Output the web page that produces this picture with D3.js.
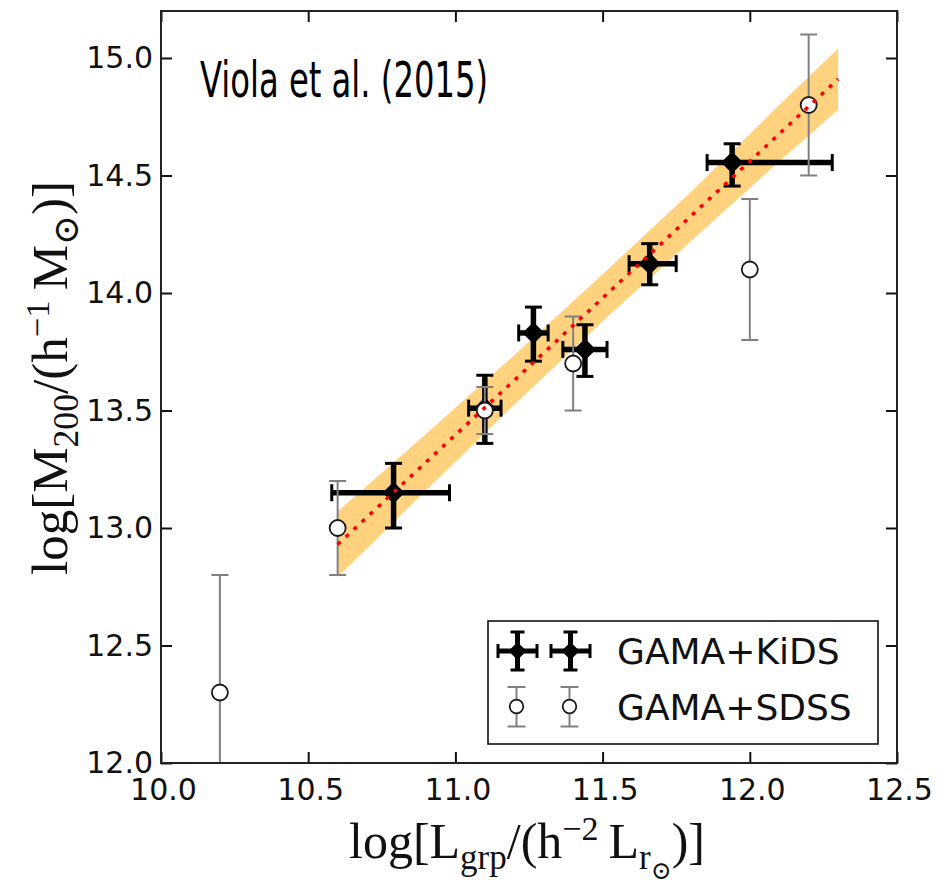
<!DOCTYPE html>
<html>
<head>
<meta charset="utf-8">
<script src="https://cdn.jsdelivr.net/npm/d3@7"></script>
<style>
  html, body { margin: 0; padding: 0; background: #fff; }
  svg { display: block; }
</style>
</head>
<body>
<svg id="chart" width="939" height="885"></svg>
<script>
// GAMA+KiDS weak-lensing halo masses versus group luminosity
const kidsL    = [10.79, 11.10, 11.265, 11.44, 11.66, 11.94];
const kidsM    = [13.15, 13.51, 13.83, 13.76, 14.125, 14.555];
const kidsLlo  = [0.21, 0.055, 0.05, 0.075, 0.07, 0.085];
const kidsLhi  = [0.19, 0.055, 0.05, 0.075, 0.09, 0.34];
const kidsMlo  = [0.15, 0.15, 0.12, 0.115, 0.09, 0.10];
const kidsMhi  = [0.125, 0.14, 0.11, 0.105, 0.085, 0.08];

// GAMA+SDSS comparison measurements
const sdssL    = [10.2, 10.6, 11.1, 11.4, 12.0, 12.2];
const sdssM    = [12.3, 13.0, 13.5, 13.7, 14.1, 14.8];
const sdssErr  = [0.5, 0.2, 0.1, 0.2, 0.3, 0.3];

// Power-law fit and its uncertainty band
const fitL     = [10.6, 12.3];
const fitM     = [12.93, 14.91];
const bandL    = [10.6, 10.9, 11.2, 11.5, 11.8, 12.1, 12.3];
const bandLo   = [12.79, 13.16, 13.525, 13.88, 14.22, 14.56, 14.78];
const bandHi   = [13.07, 13.40, 13.735, 14.08, 14.43, 14.80, 15.04];

const xTicks   = [10.0, 10.5, 11.0, 11.5, 12.0, 12.5];
const yTicks   = [12.0, 12.5, 13.0, 13.5, 14.0, 14.5, 15.0];
const seriesNames = ["GAMA+KiDS", "GAMA+SDSS"];
const annotation  = "Viola et al. (2015)";

const svg = d3.select("#chart");
const pLeft = 161, pRight = 897, pTop = 11, pBottom = 763;
const x = d3.scaleLinear().domain([10, 12.5]).range([pLeft, pRight]);
const y = d3.scaleLinear().domain([12, 15.2]).range([pBottom, pTop]);

svg.append("defs").append("clipPath").attr("id", "plotclip")
  .append("rect").attr("x", pLeft).attr("y", pTop)
  .attr("width", pRight - pLeft).attr("height", pBottom - pTop);

const plot = svg.append("g").attr("clip-path", "url(#plotclip)");

// uncertainty band
const band = bandL.map((l, i) => ({l, lo: bandLo[i], hi: bandHi[i]}));
plot.append("path").datum(band)
  .attr("d", d3.area().x(d => x(d.l)).y0(d => y(d.lo)).y1(d => y(d.hi)))
  .attr("fill", "#ffd280").attr("stroke", "none");

// KiDS error bars and markers
const kids = kidsL.map((l, i) => ({l, m: kidsM[i], llo: kidsLlo[i], lhi: kidsLhi[i], mlo: kidsMlo[i], mhi: kidsMhi[i]}));
function kidsMarker(g, cx, cy, x0, x1, y0, y1, cap, half, lw) {
  g.append("line").attr("x1", x0).attr("x2", x1).attr("y1", cy).attr("y2", cy)
    .attr("stroke", "#000").attr("stroke-width", lw);
  g.append("line").attr("x1", cx).attr("x2", cx).attr("y1", y0).attr("y2", y1)
    .attr("stroke", "#000").attr("stroke-width", lw);
  [x0, x1].forEach(xx => g.append("line").attr("x1", xx).attr("x2", xx)
    .attr("y1", cy - cap).attr("y2", cy + cap).attr("stroke", "#000").attr("stroke-width", 3));
  [y0, y1].forEach(yy => g.append("line").attr("y1", yy).attr("y2", yy)
    .attr("x1", cx - cap).attr("x2", cx + cap).attr("stroke", "#000").attr("stroke-width", 3));
  g.append("path").attr("d", `M${cx},${cy - half}L${cx + half},${cy}L${cx},${cy + half}L${cx - half},${cy}Z`)
    .attr("fill", "#000");
}
const kidsG = plot.append("g");
kids.forEach(d => {
  kidsMarker(kidsG, x(d.l), y(d.m), x(d.l - d.llo), x(d.l + d.lhi),
             y(d.m - d.mlo), y(d.m + d.mhi), 8.5, 11, 5.5);
});

// SDSS error bars and open circles
function sdssMarker(g, cx, cy, y0, y1, cap, r) {
  g.append("line").attr("x1", cx).attr("x2", cx).attr("y1", y0).attr("y2", y1)
    .attr("stroke", "#808080").attr("stroke-width", 2);
  [y0, y1].forEach(yy => g.append("line").attr("y1", yy).attr("y2", yy)
    .attr("x1", cx - cap).attr("x2", cx + cap).attr("stroke", "#808080").attr("stroke-width", 2));
  g.append("circle").attr("cx", cx).attr("cy", cy).attr("r", r)
    .attr("fill", "#fff").attr("stroke", "#1a1a1a").attr("stroke-width", 1.8);
}
const sdssG = plot.append("g");
sdssL.forEach((l, i) => {
  sdssMarker(sdssG, x(l), y(sdssM[i]), y(sdssM[i] - sdssErr[i]), y(sdssM[i] + sdssErr[i]), 8.5, 8);
});

// best-fit relation
plot.append("path").datum(fitL.map((l, i) => ({l, m: fitM[i]})))
  .attr("d", d3.line().x(d => x(d.l)).y(d => y(d.m)))
  .attr("fill", "none").attr("stroke", "#ff0000").attr("stroke-width", 3.5)
  .attr("stroke-dasharray", "4 7");

// axes: ticks point inward on all four sides
const tickFont = "'DejaVu Sans', sans-serif";
const gx = svg.append("g").attr("transform", `translate(0,${pBottom})`)
  .call(d3.axisBottom(x).tickValues(xTicks).tickFormat(d3.format(".1f")).tickSize(-11).tickPadding(0));
gx.selectAll("text").attr("y", 37).attr("dy", 0).attr("dx", 2)
  .style("font-family", tickFont).style("font-size", "30px").attr("fill", "#111");
const gy = svg.append("g").attr("transform", `translate(${pLeft},0)`)
  .call(d3.axisLeft(y).tickValues(yTicks).tickFormat(d3.format(".1f")).tickSize(-11).tickPadding(8));
gy.selectAll("text").attr("dy", "0.32em")
  .style("font-family", tickFont).style("font-size", "30px").attr("fill", "#111");
const gt = svg.append("g").attr("transform", `translate(0,${pTop})`)
  .call(d3.axisTop(x).tickValues(xTicks).tickFormat("").tickSize(-11));
const gr = svg.append("g").attr("transform", `translate(${pRight},0)`)
  .call(d3.axisRight(y).tickValues(yTicks).tickFormat("").tickSize(-11));
[gx, gy, gt, gr].forEach(g => {
  g.select(".domain").remove();
  g.selectAll(".tick line").attr("stroke", "#111").attr("stroke-width", 2);
});
svg.append("rect").attr("x", pLeft).attr("y", pTop)
  .attr("width", pRight - pLeft).attr("height", pBottom - pTop)
  .attr("fill", "none").attr("stroke", "#222").attr("stroke-width", 2);

// annotation
svg.append("text").attr("x", 200).attr("y", 97)
  .attr("textLength", 288).attr("lengthAdjust", "spacingAndGlyphs")
  .style("font-family", "'Liberation Sans Narrow', 'DejaVu Sans Condensed', 'Roboto', sans-serif")
  .style("font-size", "49px").attr("fill", "#000")
  .text(annotation);

// legend
const lg = svg.append("g");
lg.append("rect").attr("x", 488).attr("y", 621).attr("width", 390).attr("height", 123)
  .attr("fill", "#fff").attr("stroke", "#111").attr("stroke-width", 1.6);
[517.5, 570.5].forEach(cx => {
  kidsMarker(lg, cx, 651, cx - 19.5, cx + 19.5, 632, 670, 7, 9, 5);
  sdssMarker(lg, cx - 1, 706.5, 687, 726.5, 9, 6.8);
});
lg.selectAll("text.lab").data(seriesNames).join("text")
  .attr("class", "lab").attr("x", 617).attr("y", (d, i) => i === 0 ? 664 : 720)
  .style("font-family", tickFont).style("font-size", "36px").attr("fill", "#111")
  .text(d => d);

// axis titles with sub/superscripts
function mathLabel(g, segs, size) {
  const t = g.append("text").attr("text-anchor", "middle")
    .style("font-family", "'Liberation Serif', 'DejaVu Serif', serif")
    .style("font-size", size + "px").attr("fill", "#111");
  const shift = {0: 0, "-1": 0.22, "1": -0.36, "-2": 0.42};
  const scale = {0: 1, "-1": 0.7, "1": 0.68, "-2": 0.5};
  let cur = 0;
  segs.forEach(([txt, lvl]) => {
    const target = shift[lvl] * size;
    t.append("tspan").attr("dy", target - cur)
      .style("font-size", (size * scale[lvl]) + "px").text(txt);
    cur = target;
  });
  return t;
}
const xl = svg.append("g").attr("transform", "translate(527,858)");
mathLabel(xl, [["log[L", 0], ["grp", -1], ["/(h", 0], ["\u22122", 1], ["\u2009L", 0], ["r", -1], ["\u2299", -2], [")]", 0]], 50);
const yl = svg.append("g").attr("transform", "translate(67,378) rotate(-90)");
mathLabel(yl, [["log[M", 0], ["200", -1], ["/(h", 0], ["\u22121", 1], ["\u2009M", 0], ["\u2299", -1], [")]", 0]], 51);
</script>
</body>
</html>
